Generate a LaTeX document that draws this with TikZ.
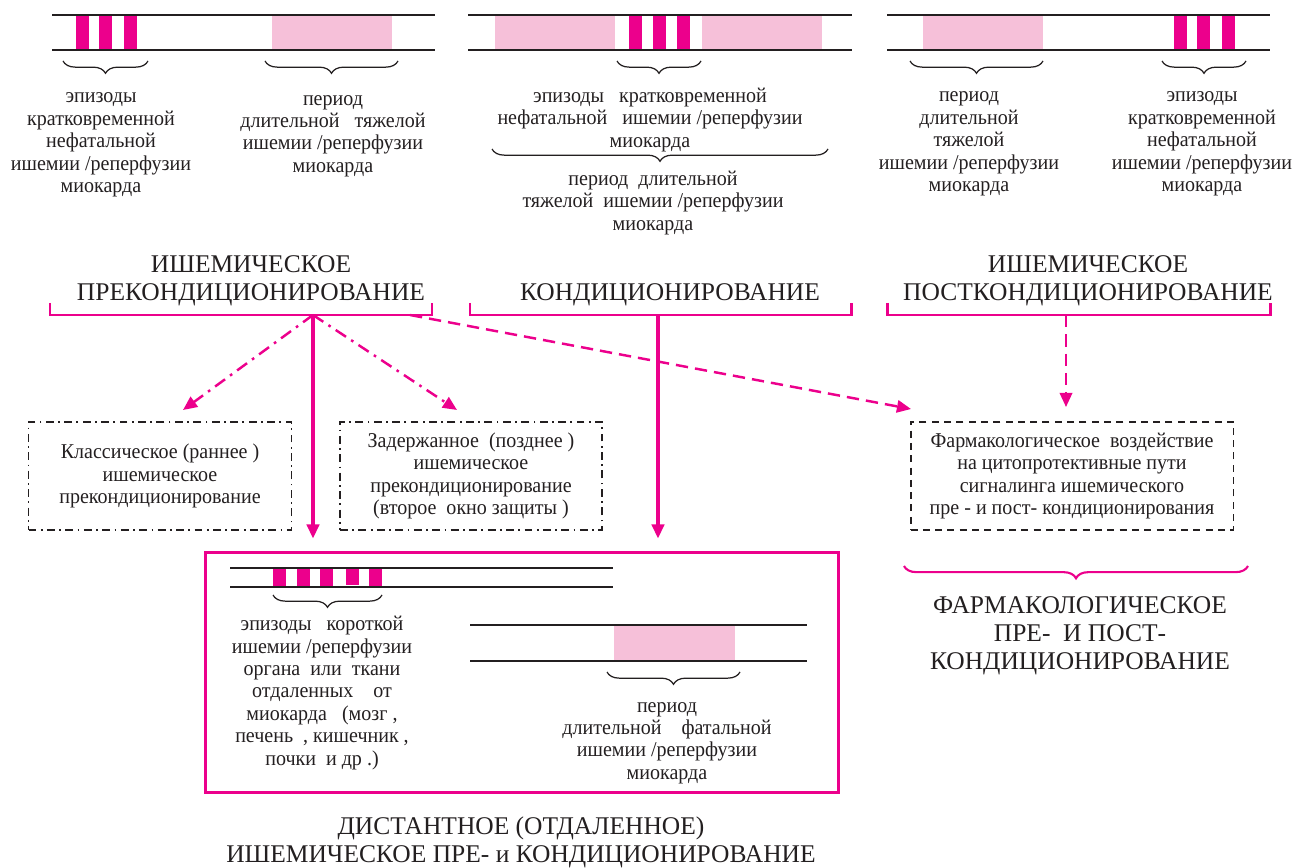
\documentclass[tikz,border=0pt]{standalone}
\usepackage{fontspec}
\setmainfont{Liberation Serif}
\newfontfamily\narrowf[FakeStretch=0.95]{Liberation Serif}
\usepackage{xcolor}
\usetikzlibrary{arrows.meta, decorations.pathreplacing, positioning}
\definecolor{mag}{RGB}{236,0,140}
\definecolor{rose}{RGB}{246,192,217}
\definecolor{ink}{RGB}{35,31,32}
\tikzset{
  txt/.style={align=center, text=ink, inner sep=0pt, font=\narrowf\fontsize{12}{12.75}\selectfont},
  head/.style={align=center, text=ink, inner sep=0pt, font=\fontsize{14.5}{15.9}\selectfont},
  brc/.style={draw=ink, line width=0.7pt, decorate, decoration={brace, mirror, amplitude=7pt}},
  bkt/.style={draw=mag, line width=1.7pt},
  tip/.style={-{Triangle[length=8pt,width=7pt]}},
  solidarr/.style={tip, draw=mag, line width=1.8pt},
  dasharr/.style={tip, draw=mag, line width=1.4pt, dash pattern=on 7pt off 4pt},
  dotarr/.style={tip, draw=mag, line width=1.4pt, dash pattern=on 7pt off 3.5pt on 1.5pt off 3.5pt},
  dotbox/.style={txt, draw=ink, line width=1.1pt, dash pattern=on 4.5pt off 2.5pt on 1pt off 2.5pt},
  dashbox/.style={txt, draw=ink, line width=1.1pt, dash pattern=on 4pt off 3pt}
}
% two rails of a time line
\newcommand{\rails}[4]{\draw[ink, line width=1.1pt] (#1,#3) -- (#2,#3) (#1,#4) -- (#2,#4);}
% one short episode
\newcommand{\episode}[3]{\fill[mag] (#1,#2) rectangle ++(13,#3);}

\begin{document}
\begin{tikzpicture}[x=0.02cm, y=-0.02cm]
\useasboundingbox (0,0) rectangle (1309,868);
% preconditioning
\fill[rose] (272,15) rectangle (392,50);
\foreach \x in {76,99,124} {\episode{\x}{15}{35}}
\rails{52}{435}{15}{50}
\draw[brc] (63,61) -- (148,61);
\draw[brc] (265,61) -- (398,61);
\node[txt] (ep1) at (101,145) {эпизоды\\кратковременной\\нефатальной\\ишемии /реперфузии\\миокарда};
\node[txt] (per1) at (333,136) {период\\длительной\ \ \ тяжелой\\ишемии /реперфузии\\миокарда};
% conditioning
\fill[rose] (495,15) rectangle (615,50);
\fill[rose] (702,15) rectangle (822,50);
\foreach \x in {629,653,677} {\episode{\x}{15}{35}}
\rails{468}{852}{15}{50}
\draw[brc] (617,61) -- (701,61);
\node[txt] (ep2) at (650,120) {эпизоды\ \ \ кратковременной\\нефатальной\ \ \ ишемии /реперфузии\\миокарда};
\draw[brc] (492,149) -- (828,149);
\node[txt] (per2) at (653,203) {период\ \ длительной\\тяжелой\ \ ишемии /реперфузии\\миокарда};
% postconditioning
\fill[rose] (923,15) rectangle (1043,50);
\foreach \x in {1174,1197,1222} {\episode{\x}{15}{35}}
\rails{887}{1270}{15}{50}
\draw[brc] (910,61) -- (1043,61);
\draw[brc] (1162,61) -- (1246,61);
\node[txt] (per3) at (969,144) {период\\длительной\\тяжелой\\ишемии /реперфузии\\миокарда};
\node[txt] (ep3) at (1202,144) {эпизоды\\кратковременной\\нефатальной\\ишемии /реперфузии\\миокарда};
% headings
\node[head] (hpre) at (251,281) {ИШЕМИЧЕСКОЕ\\ПРЕКОНДИЦИОНИРОВАНИЕ};
\node[head] (hcond) at (670,295) {КОНДИЦИОНИРОВАНИЕ};
\node[head] (hpost) at (1088,281) {ИШЕМИЧЕСКОЕ\\ПОСТКОНДИЦИОНИРОВАНИЕ};
\draw[bkt] (50,303) -- (50,315) -- (432,315) -- (432,303);
\draw[bkt] (470,303) -- (470,315) -- (851,315) -- (851,303);
\draw[bkt] (887,303) -- (887,315) -- (1270,315) -- (1270,303);
\coordinate (pre) at (313,315);
\coordinate (preside) at (410,315);
\coordinate (cond) at (658,315);
\coordinate (post) at (1066,315);
% boxes
\node[dotbox, minimum width=5.26cm, minimum height=2.16cm] (cls) at (160,476) {Классическое (раннее )\\ишемическое\\прекондиционирование};
\node[dotbox, minimum width=5.24cm, minimum height=2.16cm] (late) at (471,476) {Задержанное\ \ (позднее )\\ишемическое\\прекондиционирование\\(второе\ \ окно защиты )};
\node[dashbox, minimum width=6.46cm, minimum height=2.16cm] (pharm) at (1072,476) {Фармакологическое\ \ воздействие\\на цитопротективные пути\\сигналинга ишемического\\пре - и пост- кондиционирования};
\node[draw=mag, line width=1.7pt, minimum width=12.66cm, minimum height=4.82cm, inner sep=0pt] (dist) at (522,672.5) {};
\coordinate (clsin) at (183,410);
\coordinate (latein) at (457,410);
\coordinate (pharmin) at (911,409);
% arrows
\draw[dotarr] (pre) -- (clsin);
\draw[dotarr] (pre) -- (latein);
\draw[dasharr] (preside) -- (pharmin);
\draw[dasharr] (post) -- (post |- pharm.north) [shorten >=0.28cm];
\draw[solidarr, shorten >=0.24cm] (pre) -- (pre |- dist.north);
\draw[solidarr, shorten >=0.24cm] (cond) -- (cond |- dist.north);
% pharmacological
\draw[draw=mag, line width=1.2pt, decorate, decoration={brace, mirror, amplitude=7pt}] (904,566) -- (1248,566);
\node[head] (hpharm) at (1080,636) {ФАРМАКОЛОГИЧЕСКОЕ\\ПРЕ-\ \ И ПОСТ-\\КОНДИЦИОНИРОВАНИЕ};
% remote conditioning
\foreach \x in {273,297,320,369} {\episode{\x}{568}{19}}
\episode{346}{568}{17}
\rails{230}{613}{568}{587}
\draw[brc] (273,595) -- (382,595);
\node[txt] (ep4) at (322,693) {эпизоды\ \ \ короткой\\ишемии /реперфузии\\органа\ \ или\ \ ткани\\отдаленных\ \ \ \ от\\миокарда\ \ \ (мозг ,\\печень\ \ , кишечник ,\\почки\ \ и др .)};
\fill[rose] (614,625) rectangle (735,661);
\rails{470}{807}{625}{661}
\draw[brc] (607,672) -- (740,672);
\node[txt] (per4) at (667,743) {период\\длительной\ \ \ \ фатальной\\ишемии /реперфузии\\миокарда};
\node[head] (hdist) at (521,842) {ДИСТАНТНОЕ (ОТДАЛЕННОЕ)\\ИШЕМИЧЕСКОЕ ПРЕ- и КОНДИЦИОНИРОВАНИЕ};
\end{tikzpicture}
\end{document}
